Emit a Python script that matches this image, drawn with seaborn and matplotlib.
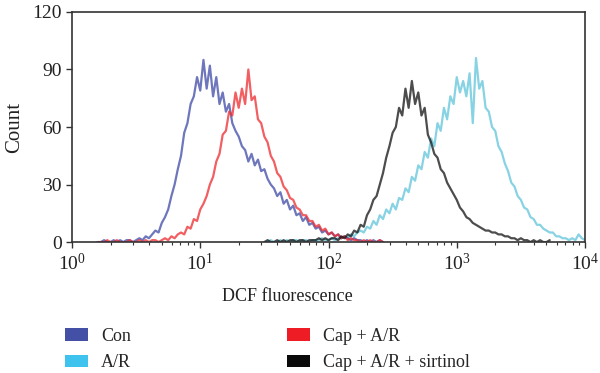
import matplotlib
matplotlib.use("Agg")
import matplotlib.pyplot as plt
from matplotlib.patches import Patch
import numpy as np
import pandas as pd
import seaborn as sns

# histogram channels: log10(fluorescence) step between consecutive counts
step = 0.025

con_start = 0.20
con = [0, 0, 1, 0, 0, 1, 0, 1, 0, 1,
       1, 0, 1, 2, 1, 3, 2, 4, 6, 5,
       10, 13, 17, 24, 30, 38, 45, 57, 62, 72,
       76, 86, 79, 95, 80, 92, 76, 86, 72, 78,
       68, 72, 62, 58, 55, 50, 48, 42, 46, 40,
       43, 37, 38, 33, 30, 28, 24, 26, 20, 22,
       17, 19, 14, 15, 11, 13, 9, 10, 7, 8,
       5, 6, 4, 5, 3, 4, 2, 3, 2, 1,
       2, 1, 1, 0, 1, 0, 1, 0, 1, 0]

cap_start = 0.20
cap = [0, 0, 0, 1, 0, 0, 1, 0, 0, 0,
       1, 0, 0, 1, 0, 1, 0, 1, 1, 0,
       1, 2, 1, 3, 2, 4, 5, 4, 8, 7,
       12, 11, 17, 20, 24, 30, 34, 42, 46, 56,
       58, 68, 66, 78, 70, 80, 72, 90, 74, 76,
       64, 62, 55, 52, 45, 42, 36, 34, 29, 27,
       23, 22, 18, 17, 14, 14, 11, 11, 8, 9,
       6, 7, 4, 5, 3, 4, 2, 3, 1, 2,
       1, 1, 0, 1, 0, 1, 0, 0, 1, 0]

sirt_start = 1.50
sirt = [0, 1, 0, 0, 1, 0, 1, 0, 1, 1,
        0, 1, 1, 0, 1, 1, 1, 2, 1, 2,
        1, 2, 2, 1, 3, 2, 4, 3, 6, 5,
        9, 8, 14, 17, 22, 24, 30, 36, 44, 50,
        57, 60, 70, 66, 80, 70, 84, 72, 78, 66,
        70, 56, 52, 46, 44, 38, 36, 31, 28, 25,
        22, 18, 16, 13, 12, 10, 9, 8, 7, 6,
        6, 5, 5, 4, 4, 3, 3, 2, 2, 1,
        2, 1, 1, 0, 1, 0, 1, 0, 0, 1]

ar_start = 1.50
ar = [0, 0, 1, 0, 0, 1, 0, 1, 0, 1,
      1, 0, 1, 1, 0, 1, 1, 1, 2, 1,
      1, 2, 1, 2, 2, 3, 2, 4, 3, 5,
      6, 5, 8, 7, 11, 9, 14, 12, 17, 15,
      20, 17, 23, 22, 28, 26, 34, 32, 40, 38,
      47, 44, 54, 50, 62, 58, 70, 64, 76, 72,
      86, 78, 84, 76, 88, 62, 96, 80, 84, 70,
      68, 60, 58, 50, 47, 41, 37, 31, 29, 24,
      22, 18, 17, 13, 12, 9, 9, 7, 6, 5,
      5, 3, 3, 2, 2, 1, 2, 1, 4, 2,
      1]

groups = ["Con", "A/R", "Cap + A/R", "Cap + A/R + sirtinol"]
line_colors = {"Con": "#3D48A6", "A/R": "#5FC4DA",
               "Cap + A/R": "#EE2A2F", "Cap + A/R + sirtinol": "#111111"}
patch_colors = {"Con": "#4350A6", "A/R": "#3EC3EE",
                "Cap + A/R": "#EE1C25", "Cap + A/R + sirtinol": "#0A0A0A"}

frames = []
for name, start, vals in [("Con", con_start, con), ("A/R", ar_start, ar),
                          ("Cap + A/R", cap_start, cap),
                          ("Cap + A/R + sirtinol", sirt_start, sirt)]:
    frames.append(pd.DataFrame({
        "fluorescence": 10 ** (start + step * np.arange(len(vals))),
        "count": vals,
        "group": name,
    }))
df = pd.concat(frames, ignore_index=True)

sns.set_style("ticks")
plt.rcParams["font.family"] = ["Liberation Serif", "DejaVu Serif"]
plt.rcParams["mathtext.fontset"] = "custom"
plt.rcParams["mathtext.rm"] = "Liberation Serif"
plt.rcParams["mathtext.it"] = "Liberation Serif:italic"

fig = plt.figure(figsize=(6, 3.73), dpi=100)
ax = fig.add_axes([0.12, 0.351, 0.855, 0.617])

sns.lineplot(data=df, x="fluorescence", y="count", hue="group",
             hue_order=["A/R", "Con", "Cap + A/R", "Cap + A/R + sirtinol"],
             palette=line_colors, estimator=None, sort=False, legend=False,
             linewidth=1.6, alpha=0.75, ax=ax)

ax.set_xscale("log")
ax.set_xlim(1, 1e4)
ax.set_ylim(0, 120)
ax.set_yticks([0, 30, 60, 90, 120])
ax.set_xlabel("DCF fluorescence", fontsize=13, labelpad=10, color="#222222")
ax.xaxis.set_label_coords(0.42, -0.2)
ax.set_ylabel("Count", fontsize=15, labelpad=6, color="#222222")
ax.tick_params(which="major", direction="out", length=4, width=1,
               labelsize=14, colors="#333333", labelcolor="#222222")
ax.tick_params(which="minor", direction="out", length=2.5, width=0.8,
               colors="#333333")
for s in ax.spines.values():
    s.set_color("#333333")
    s.set_linewidth(1.2)

col1 = [Patch(facecolor=patch_colors[g], edgecolor="none") for g in groups[:2]]
col2 = [Patch(facecolor=patch_colors[g], edgecolor="none") for g in groups[2:]]
leg_kw = dict(loc="upper left", frameon=False, borderpad=0, fontsize=13,
              handlelength=1.3, handleheight=0.65, handletextpad=0.7,
              labelspacing=0.5, borderaxespad=0)
fig.legend(col1, groups[:2], bbox_to_anchor=(0.108, 0.121), **leg_kw)
fig.legend(col2, groups[2:], bbox_to_anchor=(0.478, 0.121), **leg_kw)

fig.savefig("out.png", dpi=100)
